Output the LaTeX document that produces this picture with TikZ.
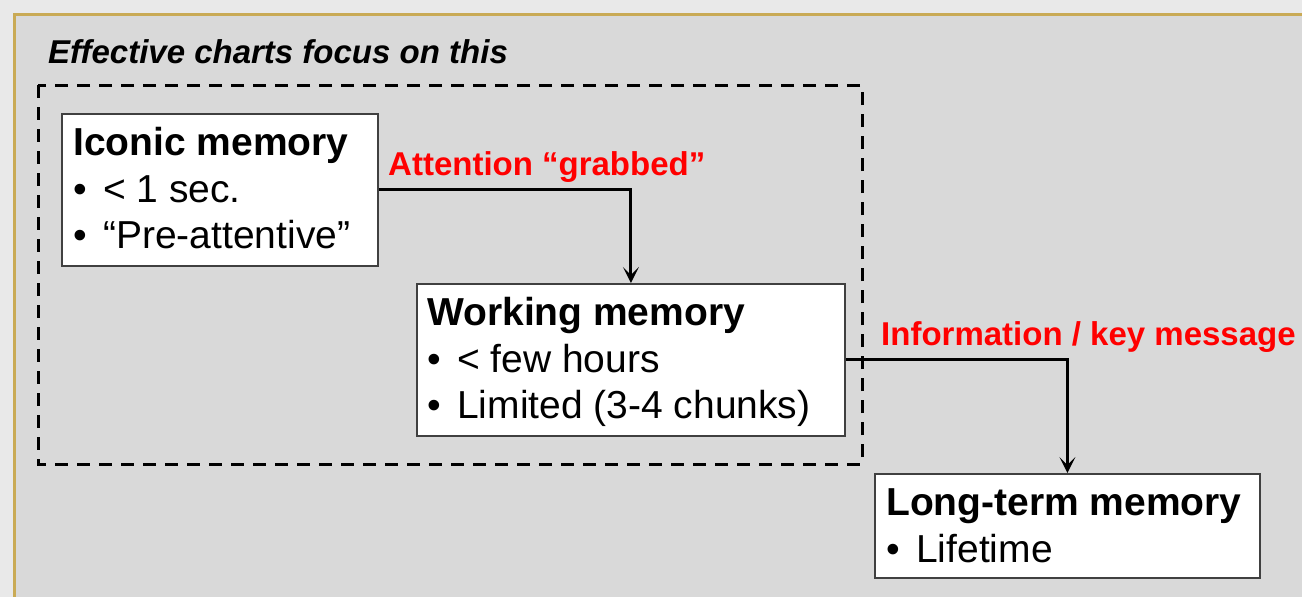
\documentclass[tikz,border=0pt]{standalone}
\usepackage{fontspec}
\setmainfont{Liberation Sans}
\usetikzlibrary{arrows.meta}
\definecolor{outerbg}{HTML}{E9E9E9}
\definecolor{innerbg}{HTML}{D9D9D9}
\definecolor{goldline}{HTML}{C9AA55}
\definecolor{boxline}{HTML}{404040}
\definecolor{labred}{HTML}{FF0000}
\newcommand{\bul}{\makebox[30pt][l]{•}}
\tikzset{
  membox/.style={draw=boxline, line width=1.8pt, fill=white, anchor=north west, inner sep=0pt},
  boxtitle/.style={anchor=base west, inner sep=0pt, font=\fontsize{39}{46}\selectfont\bfseries},
  boxitem/.style={anchor=base west, inner sep=0pt, font=\fontsize{39}{46}\selectfont},
  redlab/.style={anchor=base west, inner sep=0pt, text=labred, font=\fontsize{33}{40}\selectfont\bfseries},
  flow/.style={line width=3pt, -{Stealth[length=16pt,width=16pt,inset=8pt]}},
  focusbox/.style={draw=black, line width=3pt, dash pattern=on 13pt off 9pt}
}
\begin{document}
\begin{tikzpicture}[x=1pt,y=-1pt]
\useasboundingbox (0,0) rectangle (1302,597);
\fill[outerbg] (0,0) rectangle (1302,597);
\fill[innerbg] (14,14) rectangle (1302,597);
\draw[goldline, line width=3pt] (14,597) -- (14,14) -- (1302,14);

\node[anchor=base west, inner sep=0pt, font=\fontsize{33}{40}\selectfont\bfseries\itshape] (title) at (48,63) {Effective charts focus on this};
\draw[focusbox] (38,85) rectangle (862,464);

\node[membox, minimum width=316pt, minimum height=152pt] (iconic) at (61,113) {};
\node[boxtitle] (iconicT) at (73,155) {Iconic memory};
\node[boxitem] (iconicA) at (73,202) {\bul< 1 sec.};
\node[boxitem] (iconicB) at (73,248) {\bul“Pre-attentive”};

\node[membox, minimum width=428pt, minimum height=152pt] (working) at (416,283) {};
\node[boxtitle] (workingT) at (427,325) {Working memory};
\node[boxitem] (workingA) at (427,372) {\bul< few hours};
\node[boxitem] (workingB) at (427,418) {\bul Limited (3-4 chunks)};

\node[membox, minimum width=385pt, minimum height=104pt] (longterm) at (874,473) {};
\node[boxtitle] (longtermT) at (886,515) {Long-term memory};
\node[boxitem] (longtermA) at (886,562) {\bul Lifetime};

\draw[flow] (iconic.east) -| (working.north);
\draw[flow] (working.east) -| (longterm.north);

\node[redlab] (lab1) at (388,175) {Attention “grabbed”};
\node[redlab] (lab2) at (881,345) {Information / key message};
\end{tikzpicture}
\end{document}
